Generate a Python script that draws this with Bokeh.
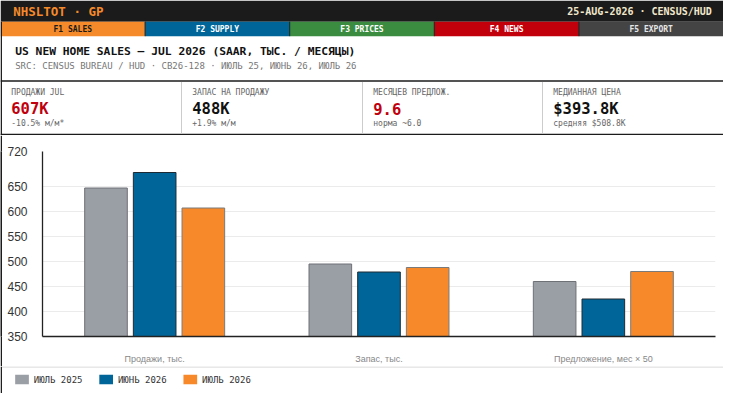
from bokeh.plotting import figure
from bokeh.models import Range1d, FactorRange, FixedTicker, ColumnDataSource
from bokeh.transform import dodge
from bokeh.layouts import column, row
from bokeh.core.properties import value
from bokeh.embed import file_html
from bokeh.resources import INLINE

# ---------------- data ----------------
categories = ["Продажи, тыс.", "Запас, тыс.", "Предложение, мес × 50"]
jul_2025 = [647, 495, 460]
jun_2026 = [678, 479, 425]
jul_2026 = [607, 488, 480]
series_labels = ["ИЮЛЬ 2025", "ИЮНЬ 2026", "ИЮЛЬ 2026"]
series_colors = ["#9a9ea5", "#006699", "#f7892a"]
series_lines = ["#6e7176", "#1e2a33", "#7a7a7a"]
y_ticks = [350, 400, 450, 500, 550, 600, 650, 720]

tab_labels = ["F1 SALES", "F2 SUPPLY", "F3 PRICES", "F4 NEWS", "F5 EXPORT"]
tab_colors = ["#f58a2a", "#006699", "#3b8c40", "#c2000b", "#444444"]
tab_text_colors = ["#1b1b1b", "#ffffff", "#ffffff", "#ffffff", "#e6e6e6"]

kpi_labels = ["ПРОДАЖИ JUL", "ЗАПАС НА ПРОДАЖУ", "МЕСЯЦЕВ ПРЕДЛОЖ.", "МЕДИАННАЯ ЦЕНА"]
kpi_values = ["607K", "488K", "9.6", "$393.8K"]
kpi_value_colors = ["#c0000c", "#111111", "#c0000c", "#111111"]
kpi_subs = ["-10.5% м/м*", "+1.9% м/м", "норма ~6.0", "средняя $508.8K"]

title_text = "US NEW HOME SALES — JUL 2026 (SAAR, ТЫС. / МЕСЯЦЫ)"
subtitle_text = "SRC: CENSUS BUREAU / HUD · CB26-128 · ИЮЛЬ 25, ИЮНЬ 26, ИЮЛЬ 26"
ticker_text = "NHSLTOT · GP"
date_text = "25-AUG-2026 · CENSUS/HUD"

MONO = "DejaVu Sans Mono"
SANS = "Liberation Sans"
W = 723
REF_W = 739
DARK = "#1b1b1b"


def blank(width, height, x0, x1, y0, y1, bg="white"):
    f = figure(width=width, height=height, x_range=Range1d(x0, x1), y_range=Range1d(y1, y0),
               x_axis_type=None, y_axis_type=None, output_backend="svg",
               toolbar_location=None, min_border=0, min_border_left=0, min_border_right=0,
               min_border_top=0, min_border_bottom=0)
    f.grid.visible = False
    f.outline_line_color = None
    f.background_fill_color = bg
    f.border_fill_color = bg
    return f


# ---------------- header ----------------
h = blank(W, 135, 0, REF_W, 0, 140)
h.quad(left=0, right=REF_W, top=0, bottom=22, fill_color=DARK, line_color=None)
h.text(x=13, y=11.5, text=[ticker_text], text_font=value(MONO), text_font_style="bold",
       text_font_size="12.5px", text_color="#f58a2a", text_baseline="middle", text_align="left")
h.text(x=727, y=11.5, text=[date_text], text_font=value(MONO), text_font_style="bold",
       text_font_size="10px", text_color="#f2e8cc", text_baseline="middle", text_align="right")

tw = REF_W / len(tab_labels)
tab_left = [i * tw for i in range(len(tab_labels))]
tab_right = [(i + 1) * tw for i in range(len(tab_labels))]
tab_mid = [(i + 0.5) * tw for i in range(len(tab_labels))]
h.quad(left=tab_left, right=tab_right, top=22, bottom=37, fill_color=tab_colors, line_color=None)
h.segment(x0=tab_right[:-1], x1=tab_right[:-1], y0=22, y1=37, line_color=DARK, line_width=1)
h.text(x=tab_mid, y=30, text=tab_labels, text_color=tab_text_colors, text_font=value(MONO),
       text_font_style="bold", text_font_size="8px", text_baseline="middle", text_align="center")

h.text(x=15, y=53, text=[title_text], text_font=value(MONO), text_font_style="bold",
       text_font_size="11.3px", text_color="#111111", text_baseline="middle", text_align="left")
h.text(x=15, y=68, text=[subtitle_text], text_font=value(MONO), text_font_size="9px",
       text_color="#777777", text_baseline="middle", text_align="left")

h.segment(x0=0, x1=REF_W, y0=83.5, y1=83.5, line_color=DARK, line_width=1.5)
h.segment(x0=0, x1=REF_W, y0=139, y1=139, line_color=DARK, line_width=1.5)
cell_left = [0, 185, 370, 554]
h.segment(x0=cell_left[1:], x1=cell_left[1:], y0=84.5, y1=138, line_color="#cccccc", line_width=1)
kx = [c + 11 for c in cell_left]
h.text(x=kx, y=95.5, text=kpi_labels, text_font=value(MONO), text_font_size="8px",
       text_color="#666666", text_baseline="middle", text_align="left")
h.text(x=kx, y=112.5, text=kpi_values, text_font=value(MONO), text_font_style="bold",
       text_font_size="15.5px", text_color=kpi_value_colors, text_baseline="middle", text_align="left")
h.text(x=kx, y=128, text=kpi_subs, text_font=value(MONO), text_font_size="8px",
       text_color="#666666", text_baseline="middle", text_align="left")
h.segment(x0=0.75, x1=0.75, y0=22, y1=140, line_color=DARK, line_width=1.5)

# ---------------- chart ----------------
src = ColumnDataSource(dict(cat=categories, jul25=jul_2025, jun26=jun_2026, jul26=jul_2026))
p = figure(width=W - 2, height=231, x_range=FactorRange(factors=categories),
           y_range=Range1d(350, 720), output_backend="svg", toolbar_location=None,
           min_border_left=40, min_border_right=8, min_border_top=16, min_border_bottom=29)
p.outline_line_color = None
p.background_fill_color = "white"
p.border_fill_color = "white"

offsets = [-0.217, 0.0, 0.217]
fields = ["jul25", "jun26", "jul26"]
for off, fld, fc, lc in zip(offsets, fields, series_colors, series_lines):
    p.vbar(x=dodge("cat", off, range=p.x_range), top=fld, bottom=350, width=0.19,
           source=src, fill_color=fc, line_color=lc, line_width=1)

p.yaxis.ticker = FixedTicker(ticks=y_ticks)
p.ygrid.ticker = FixedTicker(ticks=y_ticks)
p.ygrid.grid_line_color = "#ebebeb"
p.xgrid.grid_line_color = None
for ax in (p.xaxis, p.yaxis):
    ax.major_tick_line_color = None
    ax.minor_tick_line_color = None
    ax.axis_line_color = "#222222"
    ax.axis_line_width = 1.3
p.yaxis.major_label_text_font = SANS
p.yaxis.major_label_text_font_size = "12px"
p.yaxis.major_label_text_color = "#333333"
p.yaxis.major_label_standoff = 9
p.xaxis.major_label_text_font = SANS
p.xaxis.major_label_text_font_size = "9px"
p.xaxis.major_label_text_color = "#888888"
p.xaxis.major_label_standoff = 11

strip = blank(2, 231, 0, 1, 0, 1, bg=DARK)

# ---------------- footer / legend ----------------
f = blank(W, 27, 0, REF_W, 0, 28)
f.segment(x0=0, x1=REF_W, y0=0.5, y1=0.5, line_color="#cfcfcf", line_width=1)
f.segment(x0=0.75, x1=0.75, y0=0, y1=28, line_color=DARK, line_width=1.5)
leg_left = [15 + 86 * i for i in range(len(series_labels))]
f.quad(left=leg_left, right=[l + 14 for l in leg_left], top=8.5, bottom=18.5,
       fill_color=series_colors, line_color=None)
f.text(x=[l + 19 for l in leg_left], y=13.5, text=series_labels, text_font=value(MONO),
       text_font_size="9px", text_color="#333333", text_baseline="middle", text_align="left")

layout = column(h, row(strip, p, spacing=0), f, spacing=0)
open("out.html", "w").write(file_html(layout, INLINE))
